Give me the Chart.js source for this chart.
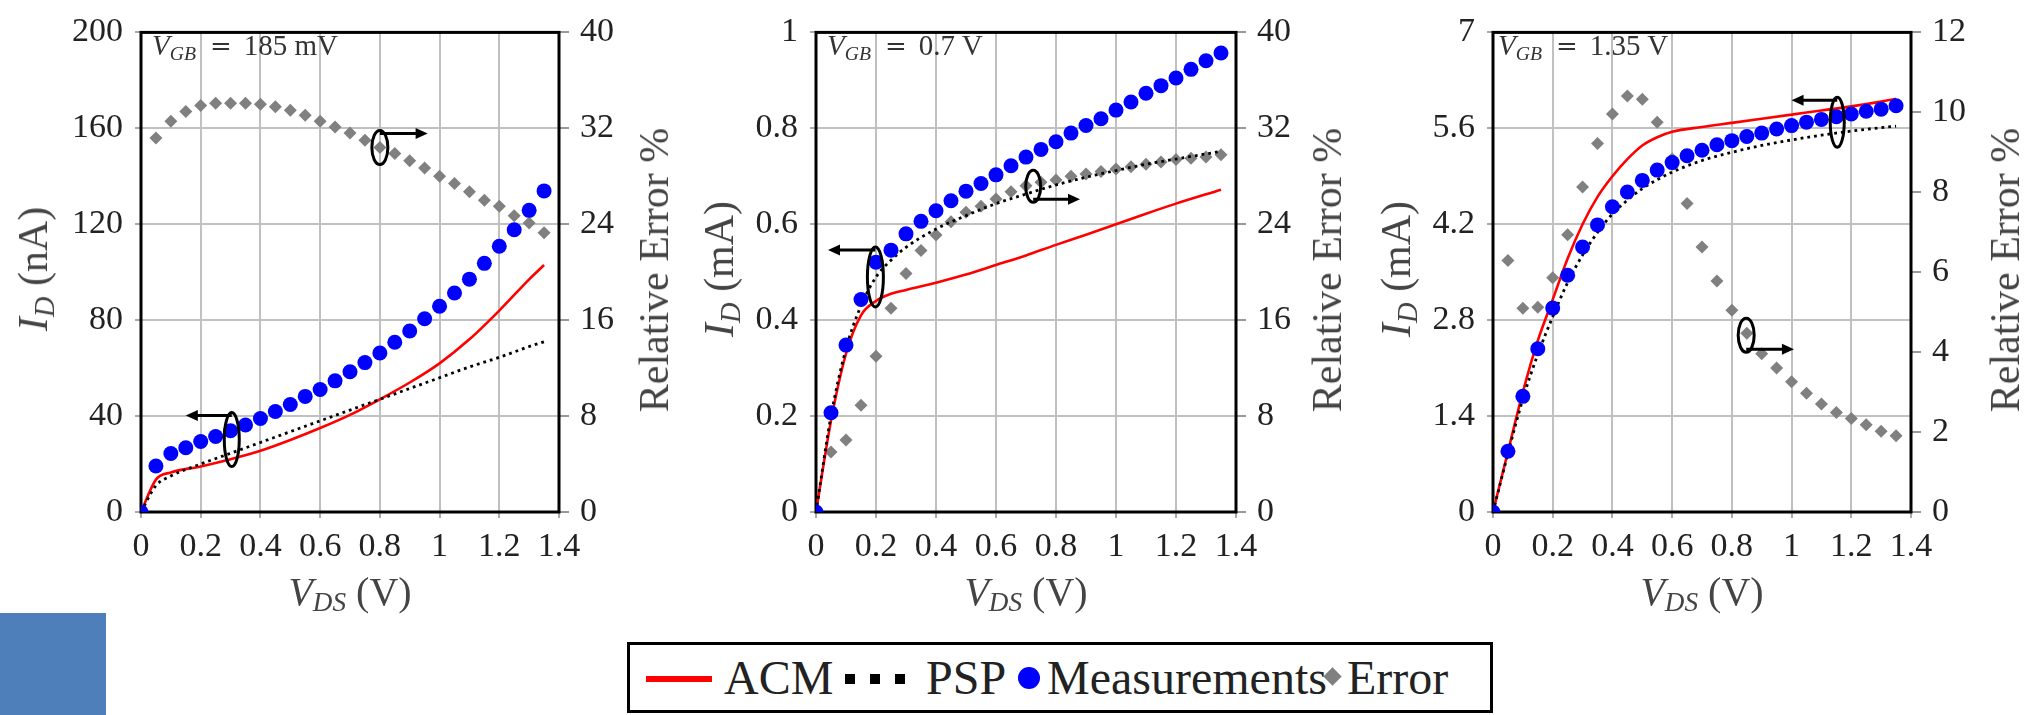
<!DOCTYPE html>
<html>
<head>
<meta charset="utf-8">
<title>Drain current vs VDS</title>
<script src="https://cdn.jsdelivr.net/npm/chart.js@4.4.1/dist/chart.umd.min.js"></script>
<style>
  html, body { margin: 0; padding: 0; background: #fff; }
  #wrap { position: relative; width: 2038px; height: 715px; overflow: hidden; font-family: 'Liberation Serif', 'DejaVu Serif', serif; }
  canvas { position: absolute; top: 0; }
  .t { position: absolute; color: #444; white-space: nowrap; transform: translate(-50%, -50%); font-family: 'Liberation Serif', 'DejaVu Serif', serif; }
  .rot { transform: translate(-50%, -50%) rotate(-90deg); }
  .yt { font-size: 42px; }
  .xt { font-size: 40px; }
  sub { font-size: 0.68em; vertical-align: -0.25em; line-height: 0; }
  .vgb { position: absolute; top: 31px; font-size: 29px; line-height: 29px; color: #333; white-space: nowrap; font-family: 'Liberation Serif', 'DejaVu Serif', serif; }
  .vgb .eq { display: inline-block; margin: 0 12px 0 14px; font-family: 'DejaVu Serif', serif; font-size: 26px; color: #333; }
  #legend { position: absolute; left: 627px; top: 642px; width: 866px; height: 71px; box-sizing: border-box; border: 3px solid #000; background: #fff; }
  #legend .lt { position: absolute; top: 9px; font-size: 48px; line-height: 48px; color: #222; font-family: 'Liberation Serif', 'DejaVu Serif', serif; }
  #legend .red { position: absolute; left: 16px; top: 31px; width: 66px; height: 6px; background: #ff0000; }
  #legend .sq { position: absolute; top: 29px; width: 10px; height: 10px; background: #000; }
  #legend .dot { position: absolute; left: 388px; top: 22px; width: 22px; height: 22px; border-radius: 50%; background: #0000ff; }
  #legend .dia { position: absolute; left: 696px; top: 25px; width: 13px; height: 13px; background: #808080; transform: rotate(45deg); }
  #blue { position: absolute; left: 0; top: 613px; width: 106px; height: 102px; background: #4f7fba; }
</style>
</head>
<body>
<div id="wrap">
  <canvas id="c1" width="680" height="715" style="left:0px"></canvas>
  <canvas id="c2" width="680" height="715" style="left:680px"></canvas>
  <canvas id="c3" width="678" height="715" style="left:1360px"></canvas>

  <div class="vgb" style="left:152px"><i>V</i><sub><i>GB</i></sub><span class="eq">=</span>185 mV</div>
  <div class="vgb" style="left:827px"><i>V</i><sub><i>GB</i></sub><span class="eq">=</span>0.7 V</div>
  <div class="vgb" style="left:1498px"><i>V</i><sub><i>GB</i></sub><span class="eq">=</span>1.35 V</div>

  <div class="t rot yt" style="left:33px; top:269px"><i>I</i><sub><i>D</i></sub> (nA)</div>
  <div class="t rot yt" style="left:719px; top:269px"><i>I</i><sub><i>D</i></sub> (mA)</div>
  <div class="t rot yt" style="left:1396px; top:269px"><i>I</i><sub><i>D</i></sub> (mA)</div>

  <div class="t rot yt" style="left:654px; top:270px">Relative Error %</div>
  <div class="t rot yt" style="left:1327px; top:270px">Relative Error %</div>
  <div class="t rot yt" style="left:2005px; top:270px">Relative Error %</div>

  <div class="t xt" style="left:350px; top:591px"><i>V</i><sub><i>DS</i></sub> (V)</div>
  <div class="t xt" style="left:1026px; top:591px"><i>V</i><sub><i>DS</i></sub> (V)</div>
  <div class="t xt" style="left:1702px; top:591px"><i>V</i><sub><i>DS</i></sub> (V)</div>

  <div id="legend">
    <span class="red"></span><span class="lt" style="left:94px">ACM</span>
    <span class="sq" style="left:215px"></span><span class="sq" style="left:240px"></span><span class="sq" style="left:265px"></span>
    <span class="lt" style="left:296px">PSP</span>
    <span class="dot"></span><span class="lt" style="left:417px">Measurements</span>
    <span class="dia"></span><span class="lt" style="left:717px">Error</span>
  </div>
  <div id="blue"></div>
</div>

<script>
// measured bias points (V_DS in V)
const vds = [0, 0.05, 0.1, 0.15, 0.2, 0.25, 0.3, 0.35, 0.4, 0.45, 0.5, 0.55, 0.6, 0.65,
             0.7, 0.75, 0.8, 0.85, 0.9, 0.95, 1, 1.05, 1.1, 1.15, 1.2, 1.25, 1.3, 1.35];
const xTicks = [0, 0.2, 0.4, 0.6, 0.8, 1, 1.2, 1.4];

// V_GB = 185 mV  (I_D in nA)
const meas1 = [0, 19.2, 24.4, 26.8, 29.4, 31.5, 33.9, 36.3, 39.0, 41.9, 44.8, 48.2, 51.1, 54.7,
               58.5, 62.3, 66.3, 70.8, 75.5, 80.6, 85.8, 91.3, 97.1, 103.7, 110.8, 117.7, 125.8, 133.9];
const err1 = [null, 31.2, 32.6, 33.4, 33.9, 34.1, 34.1, 34.1, 34.0, 33.8, 33.5, 33.1, 32.6, 32.1,
              31.6, 31.0, 30.4, 29.9, 29.3, 28.7, 28.0, 27.4, 26.7, 26.0, 25.5, 24.7, 24.1, 23.3];
const modelV1 = [0, 0.05, 0.1, 0.2, 0.3, 0.4, 0.5, 0.6, 0.7, 0.8, 0.9, 1, 1.1, 1.2, 1.3, 1.35];
const acm1 = [0, 13.5, 16.5, 19, 22, 25.5, 30, 35, 40.5, 47, 54, 62, 72, 84, 97, 103];
const psp1 = [0, 11, 15, 20, 24.5, 29, 33.5, 38, 42.5, 47, 51.5, 56, 60.5, 64.5, 69, 71];
const idTicks1 = [0, 40, 80, 120, 160, 200];
const errTicks1 = [0, 8, 16, 24, 32, 40];

// V_GB = 0.7 V  (I_D in mA)
const meas2 = [0, 0.207, 0.348, 0.443, 0.521, 0.546, 0.580, 0.606, 0.628, 0.649, 0.669, 0.685, 0.703, 0.722,
               0.740, 0.756, 0.772, 0.790, 0.806, 0.820, 0.838, 0.855, 0.873, 0.889, 0.905, 0.923, 0.941, 0.957];
const err2 = [null, 5.0, 6.0, 8.9, 13.0, 17.0, 19.9, 21.8, 23.1, 24.2, 25.0, 25.5, 26.1, 26.7,
              27.2, 27.5, 27.7, 28.0, 28.2, 28.4, 28.6, 28.8, 29.0, 29.2, 29.4, 29.5, 29.6, 29.8];
const modelV2 = [0, 0.05, 0.1, 0.15, 0.2, 0.25, 0.3, 0.4, 0.5, 0.6, 0.7, 0.8, 0.9, 1, 1.1, 1.2, 1.35];
const acm2 = [0, 0.19, 0.33, 0.41, 0.44, 0.455, 0.463, 0.478, 0.495, 0.515, 0.535, 0.557, 0.578, 0.6, 0.622, 0.643, 0.672];
const psp2 = [0, 0.2, 0.34, 0.43, 0.49, 0.525, 0.552, 0.59, 0.618, 0.643, 0.663, 0.682, 0.698, 0.712, 0.725, 0.736, 0.752];
const idTicks2 = [0, 0.2, 0.4, 0.6, 0.8, 1];
const errTicks2 = [0, 8, 16, 24, 32, 40];

// V_GB = 1.35 V  (I_D in mA)
const meas3 = [0, 0.886, 1.688, 2.383, 2.976, 3.456, 3.868, 4.19, 4.455, 4.67, 4.84, 4.99, 5.10, 5.20,
               5.28, 5.36, 5.42, 5.48, 5.53, 5.59, 5.64, 5.69, 5.73, 5.77, 5.81, 5.85, 5.88, 5.93];
const err3 = [null, 6.29, 5.10, 5.12, 5.86, 6.94, 8.13, 9.22, 9.96, 10.41, 10.33, 9.75, 8.83, 7.72,
              6.63, 5.78, 5.05, 4.47, 3.96, 3.60, 3.26, 2.97, 2.70, 2.49, 2.34, 2.18, 2.02, 1.91];
const modelV3 = [0, 0.05, 0.1, 0.15, 0.2, 0.25, 0.3, 0.35, 0.4, 0.45, 0.5, 0.55, 0.6, 0.7, 0.8, 0.9, 1, 1.1, 1.2, 1.3, 1.35];
const acm3 = [0, 0.88, 1.75, 2.5, 3.1, 3.7, 4.2, 4.6, 4.9, 5.15, 5.35, 5.47, 5.55, 5.62, 5.68, 5.74, 5.8, 5.86, 5.92, 5.99, 6.03];
const psp3 = [0, 0.85, 1.65, 2.3, 2.85, 3.35, 3.75, 4.08, 4.35, 4.55, 4.72, 4.85, 4.96, 5.13, 5.25, 5.35, 5.43, 5.5, 5.56, 5.61, 5.63];
const idTicks3 = [0, 1.4, 2.8, 4.2, 5.6, 7];
const errTicks3 = [0, 2, 4, 6, 8, 10, 12];

const serif = "'Liberation Serif', 'DejaVu Serif', serif";
const tickFont = { family: serif, size: 34, lineHeight: 1.2 };

function pts(xs, ys) {
  return xs.map((x, i) => ({ x: x, y: ys[i] }));
}
function fmt(v) {
  return String(parseFloat(Number(v).toFixed(2)));
}
function fixTicks(list) {
  return function(scale) { scale.ticks = list.map(v => ({ value: v })); };
}

// black box round the plot area
const framePlugin = {
  id: 'frame',
  beforeDatasetsDraw(chart) {
    const a = chart.chartArea, c = chart.ctx;
    c.save();
    c.lineWidth = 3;
    c.strokeStyle = '#000';
    c.strokeRect(a.left, a.top, a.right - a.left, a.bottom - a.top);
    c.restore();
  }
};

// ellipse + arrow markers telling which axis a curve belongs to
const notePlugin = {
  id: 'notes',
  afterDatasetsDraw(chart, args, opts) {
    const xs = chart.scales.x, ys = chart.scales.y, c = chart.ctx;
    (opts.items || []).forEach(n => {
      const cx = xs.getPixelForValue(n.x), cy = ys.getPixelForValue(n.y);
      c.save();
      c.strokeStyle = '#000';
      c.fillStyle = '#000';
      c.lineWidth = 3;
      c.beginPath();
      c.ellipse(cx, cy, n.rx, n.ry, 0, 0, 2 * Math.PI);
      c.stroke();
      const ay = n.side === 'top' ? cy - n.ry + 3 : cy + n.ry - 3;
      const ex = xs.getPixelForValue(n.toX);
      const dir = Math.sign(ex - cx);
      c.beginPath();
      c.moveTo(cx, ay);
      c.lineTo(ex - dir * 8, ay);
      c.stroke();
      c.beginPath();
      c.moveTo(ex, ay);
      c.lineTo(ex - dir * 12, ay - 5.5);
      c.lineTo(ex - dir * 12, ay + 5.5);
      c.closePath();
      c.fill();
      c.restore();
    });
  }
};

function makePanel(id, p) {
  const ctx = document.getElementById(id).getContext('2d');
  return new Chart(ctx, {
    type: 'scatter',
    data: {
      datasets: [
        {
          label: 'Measurements', data: pts(vds, p.meas), yAxisID: 'y',
          pointStyle: 'circle', pointRadius: 7.5, borderWidth: 0,
          backgroundColor: '#0000ff', borderColor: '#0000ff', order: 1
        },
        {
          label: 'PSP', data: pts(p.modelV, p.psp), yAxisID: 'y',
          showLine: true, pointRadius: 0, borderColor: '#000', borderWidth: 2.8,
          borderDash: [2.8, 4], cubicInterpolationMode: 'monotone', order: 2
        },
        {
          label: 'ACM', data: pts(p.modelV, p.acm), yAxisID: 'y',
          showLine: true, pointRadius: 0, borderColor: '#ff0000', borderWidth: 2.6,
          cubicInterpolationMode: 'monotone', order: 3
        },
        {
          label: 'Error', data: pts(vds, p.err), yAxisID: 'y2',
          pointStyle: 'rectRot', pointRadius: 6.5, borderWidth: 0,
          backgroundColor: '#808080', borderColor: '#808080', order: 4
        }
      ]
    },
    options: {
      responsive: false,
      animation: false,
      devicePixelRatio: 1,
      layout: { padding: { top: 22, left: 0, right: 0, bottom: 0 } },
      plugins: {
        legend: { display: false },
        tooltip: { enabled: false },
        notes: { items: p.notes }
      },
      scales: {
        x: {
          type: 'linear', min: 0, max: 1.4,
          afterBuildTicks: fixTicks(xTicks),
          afterFit: s => { s.height = 203; },
          border: { display: false },
          grid: { color: '#c0c0c0', lineWidth: 2, tickLength: 6, tickColor: '#aaa' },
          ticks: { font: tickFont, color: '#222', padding: 9, maxRotation: 0, autoSkip: false, callback: fmt }
        },
        y: {
          position: 'left', min: 0, max: p.idTicks[p.idTicks.length - 1],
          afterBuildTicks: fixTicks(p.idTicks),
          afterFit: s => { s.width = p.leftW; },
          border: { display: false },
          grid: { color: '#c0c0c0', lineWidth: 2, tickLength: 6, tickColor: '#aaa' },
          ticks: { font: tickFont, color: '#222', padding: 12, autoSkip: false, callback: fmt }
        },
        y2: {
          position: 'right', min: 0, max: p.errTicks[p.errTicks.length - 1],
          afterBuildTicks: fixTicks(p.errTicks),
          afterFit: s => { s.width = p.rightW; },
          border: { display: false },
          grid: { drawOnChartArea: false, color: '#999', lineWidth: 2, tickLength: 10 },
          ticks: { font: tickFont, color: '#222', padding: 11, autoSkip: false, callback: fmt }
        }
      }
    },
    plugins: [framePlugin, notePlugin]
  });
}

makePanel('c1', {
  meas: meas1, err: err1, modelV: modelV1, acm: acm1, psp: psp1,
  idTicks: idTicks1, errTicks: errTicks1, leftW: 141, rightW: 121,
  notes: [
    { x: 0.80, y: 152, rx: 8, ry: 17, side: 'top', toX: 0.96 },
    { x: 0.304, y: 30.2, rx: 7.5, ry: 27, side: 'top', toX: 0.15 }
  ]
});
makePanel('c2', {
  meas: meas2, err: err2, modelV: modelV2, acm: acm2, psp: psp2,
  idTicks: idTicks2, errTicks: errTicks2, leftW: 136, rightW: 124,
  notes: [
    { x: 0.198, y: 0.49, rx: 8, ry: 30, side: 'top', toX: 0.04 },
    { x: 0.724, y: 0.679, rx: 7.5, ry: 16, side: 'bottom', toX: 0.88 }
  ]
});
makePanel('c3', {
  meas: meas3, err: err3, modelV: modelV3, acm: acm3, psp: psp3,
  idTicks: idTicks3, errTicks: errTicks3, leftW: 133, rightW: 127,
  notes: [
    { x: 1.153, y: 5.69, rx: 7, ry: 25, side: 'top', toX: 1.0 },
    { x: 0.848, y: 2.58, rx: 8, ry: 17, side: 'bottom', toX: 1.008 }
  ]
});
</script>
</body>
</html>
